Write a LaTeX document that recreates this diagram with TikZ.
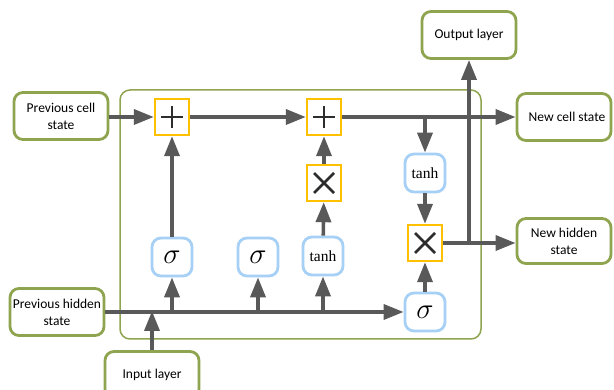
\RequirePackage{fix-cm}
\documentclass[tikz,border=0pt]{standalone}
\usepackage{fontspec}
\setmainfont{Carlito}
\newfontfamily\tfont{Liberation Serif}
\usetikzlibrary{arrows.meta}
\definecolor{ogreen}{RGB}{143,164,79}
\definecolor{obox}{RGB}{255,192,0}
\definecolor{lblue}{RGB}{166,208,245}
\definecolor{agray}{RGB}{89,89,89}
\definecolor{sgray}{RGB}{45,45,45}
\tikzset{
  iobox/.style={draw=ogreen, line width=2.8pt, rounded corners=9pt, fill=white,
    minimum width=94pt, minimum height=47pt, align=center, font=\fontsize{13.5}{17}\selectfont, inner sep=1pt},
  opbox/.style={draw=obox, line width=2.4pt, fill=white, minimum width=34pt, minimum height=36pt, inner sep=0pt},
  actbox/.style={draw=lblue, line width=2.8pt, rounded corners=9pt, fill=white, minimum width=40pt, minimum height=38pt, inner sep=0pt},
  conn/.style={draw=agray, line width=3.6pt, -{Triangle[length=20pt,width=15pt]}},
  glyph/.style={draw=sgray, line width=2.6pt},
  sig/.style={font=\fontsize{29}{29}\selectfont},
  tnh/.style={font=\tfont\fontsize{15.5}{15.5}\selectfont},
}
\begin{document}
\begin{tikzpicture}[x=1pt,y=-1pt]
\useasboundingbox (0,0) rectangle (614,390);
\clip (0,0) rectangle (614,390);
% big cell box
\draw[ogreen, line width=1.5pt, rounded corners=10pt] (120,90) rectangle (481,339);
% io boxes
\node[iobox] (pcs) at (61,116) {Previous cell\\state};
\node[iobox] (phs) at (57,312) {Previous hidden\\state};
\node[iobox] (inp) at (152,375) {Input layer};
\node[iobox] (out) at (469,35) {Output layer};
\node[iobox] (ncs) at (564,117) {\hspace*{6pt}New cell state};
\node[iobox, minimum height=45pt] (nhs) at (564,241) {New hidden\\state};
% operators
\node[opbox] (p1) at (172,117) {};
\node[opbox] (p2) at (324,117) {};
\node[opbox] (t1) at (324,183) {};
\node[opbox] (t2) at (425,243) {};
\foreach \n in {p1,p2}{
  \draw[glyph] ([xshift=-11pt]\n.center) -- ([xshift=11pt]\n.center);
  \draw[glyph] ([yshift=-11pt]\n.center) -- ([yshift=11pt]\n.center);
}
\foreach \n in {t1,t2}{
  \draw[glyph] ([shift={(-10pt,-10pt)}]\n.center) -- ([shift={(10pt,10pt)}]\n.center);
  \draw[glyph] ([shift={(-10pt,10pt)}]\n.center) -- ([shift={(10pt,-10pt)}]\n.center);
}
% activations
\node[actbox, sig] (s1) at (172,257) {$\sigma$};
\node[actbox, sig] (s2) at (258,257) {$\sigma$};
\node[actbox, tnh] (th2) at (323,256) {tanh};
\node[actbox, tnh] (th1) at (425,173) {tanh};
\node[actbox, sig] (s4) at (425,312) {$\sigma$};
% coordinates
\coordinate (hin) at (152,311);
\coordinate (b1) at (172,311);
\coordinate (b2) at (258,311);
\coordinate (b3) at (323,311);
\coordinate (cb) at (425,117);
\coordinate (hb) at (469,243);
% connectors
\draw[conn] (pcs.east |- p1.west) -- (p1.west);
\draw[conn] (p1) -- (p2);
\draw[conn] (p2) -- (ncs.west |- p2);
\draw[conn] (cb) -- (th1);
\draw[conn] (th1) -- (t2);
\draw[conn] (s4) -- (t2);
\draw[conn] (t2) -- (nhs.west |- t2);
\draw[conn] (hb) -- (out);
\draw[conn] (phs.east |- s4) -- (s4);
\draw[conn] (inp) -- (hin);
\draw[conn] (b1) -- (s1);
\draw[conn] (b2) -- (s2);
\draw[conn] (b3) -- (th2);
\draw[conn] (s1) -- (p1);
\draw[conn] (th2) -- (t1);
\draw[conn] (t1) -- (p2);
\end{tikzpicture}
\end{document}
